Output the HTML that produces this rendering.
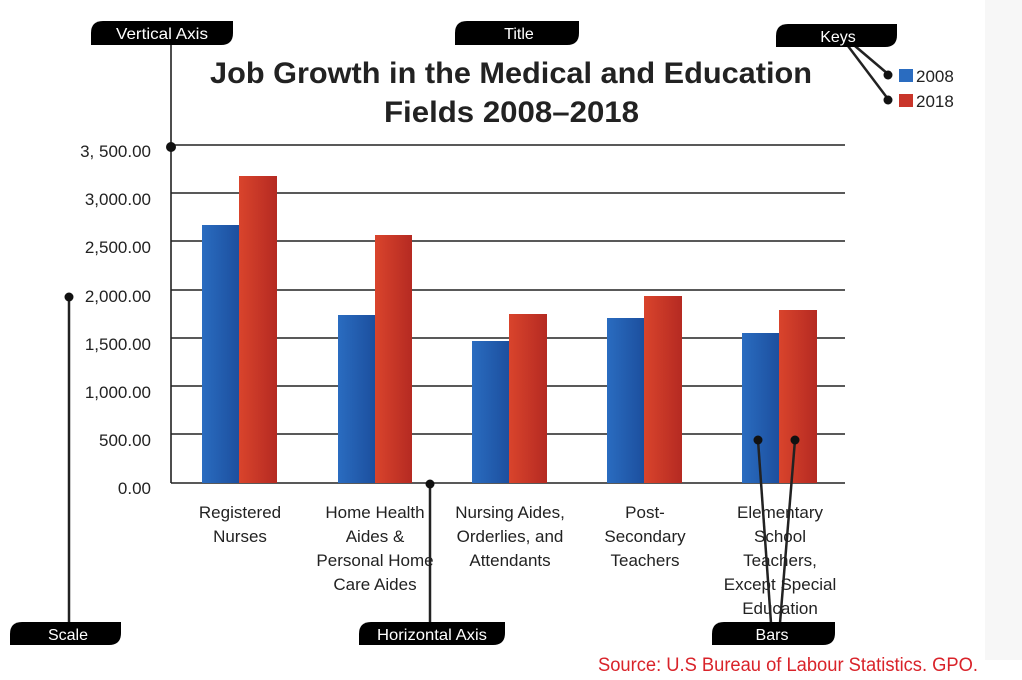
<!DOCTYPE html>
<html><head><meta charset="utf-8"><style>
body{margin:0;background:#fff;}
svg{display:block;font-family:"Liberation Sans",sans-serif;}
</style></head><body>
<svg width="1022" height="680" viewBox="0 0 1022 680">
<defs>
<linearGradient id="b" x1="0" x2="1"><stop offset="0" stop-color="#2a6cc0"/><stop offset="1" stop-color="#1c4f9e"/></linearGradient>
<linearGradient id="r" x1="0" x2="1"><stop offset="0" stop-color="#d9442c"/><stop offset="1" stop-color="#b52a22"/></linearGradient>
</defs>
<rect x="985" y="0" width="37" height="660" fill="#f7f7f7"/>
<g stroke="#222" stroke-width="1.6">
<line x1="171" y1="145" x2="845" y2="145"/><line x1="171" y1="193" x2="845" y2="193"/>
<line x1="171" y1="241" x2="845" y2="241"/><line x1="171" y1="290" x2="845" y2="290"/>
<line x1="171" y1="338" x2="845" y2="338"/><line x1="171" y1="386" x2="845" y2="386"/>
<line x1="171" y1="434" x2="845" y2="434"/><line x1="171" y1="483" x2="845" y2="483"/>
<line x1="171" y1="45" x2="171" y2="483"/>
</g>
<rect x="202" y="225" width="37" height="258" fill="url(#b)"/><rect x="239" y="176" width="38" height="307" fill="url(#r)"/>
<rect x="338" y="315" width="37" height="168" fill="url(#b)"/><rect x="375" y="235" width="37" height="248" fill="url(#r)"/>
<rect x="472" y="341" width="37" height="142" fill="url(#b)"/><rect x="509" y="314" width="38" height="169" fill="url(#r)"/>
<rect x="607" y="318" width="37" height="165" fill="url(#b)"/><rect x="644" y="296" width="38" height="187" fill="url(#r)"/>
<rect x="742" y="333" width="37" height="150" fill="url(#b)"/><rect x="779" y="310" width="38" height="173" fill="url(#r)"/>
<g font-size="17" fill="#222" text-anchor="end">
<text x="151" y="157">3, 500.00</text><text x="151" y="205">3,000.00</text>
<text x="151" y="253">2,500.00</text><text x="151" y="302">2,000.00</text>
<text x="151" y="350">1,500.00</text><text x="151" y="398">1,000.00</text>
<text x="151" y="446">500.00</text><text x="151" y="494">0.00</text>
</g>
<g font-size="17" fill="#222" text-anchor="middle">
<text x="240" y="518">Registered</text><text x="240" y="542">Nurses</text>
<text x="375" y="518">Home Health</text><text x="375" y="542">Aides &amp;</text><text x="375" y="566">Personal Home</text><text x="375" y="590">Care Aides</text>
<text x="510" y="518">Nursing Aides,</text><text x="510" y="542">Orderlies, and</text><text x="510" y="566">Attendants</text>
<text x="645" y="518">Post-</text><text x="645" y="542">Secondary</text><text x="645" y="566">Teachers</text>
<text x="780" y="518">Elementary</text><text x="780" y="542">School</text><text x="780" y="566">Teachers,</text><text x="780" y="590">Except Special</text><text x="780" y="614">Education</text>
</g>
<g font-size="30" font-weight="bold" fill="#222">
<text x="210" y="83" textLength="602" lengthAdjust="spacingAndGlyphs">Job Growth in the Medical and Education</text>
<text x="384" y="122" textLength="255" lengthAdjust="spacingAndGlyphs">Fields 2008–2018</text>
</g>
<rect x="899" y="69" width="14" height="13" fill="#2a6cc0"/><text x="916" y="82" font-size="17" fill="#222">2008</text>
<rect x="899" y="94" width="14" height="13" fill="#c9352a"/><text x="916" y="107" font-size="17" fill="#222">2018</text>
<g stroke="#222" stroke-width="2.5" fill="none">
<line x1="855" y1="46" x2="888" y2="74"/><line x1="848" y1="46" x2="888" y2="99"/>
<line x1="69" y1="297" x2="69" y2="623"/>
<line x1="430" y1="484" x2="430" y2="623"/>
<line x1="758" y1="440" x2="771" y2="623"/><line x1="795" y1="440" x2="780" y2="623"/>
</g>
<g fill="#111">
<circle cx="171" cy="147" r="5"/><circle cx="518" cy="25" r="4"/>
<circle cx="888" cy="75" r="4.5"/><circle cx="888" cy="100" r="4.5"/>
<circle cx="69" cy="297" r="4.5"/><circle cx="430" cy="484" r="4.5"/>
<circle cx="758" cy="440" r="4.5"/><circle cx="795" cy="440" r="4.5"/>
</g>
<g fill="#000">
<path d="M103 21H233V33Q233 45 221 45H91V33Q91 21 103 21Z"/>
<path d="M467 21H579V33Q579 45 567 45H455V33Q455 21 467 21Z"/>
<path d="M788 24H897V35Q897 47 885 47H776V36Q776 24 788 24Z"/>
<path d="M22 622H121V633Q121 645 109 645H10V634Q10 622 22 622Z"/>
<path d="M371 622H505V633Q505 645 493 645H359V634Q359 622 371 622Z"/>
<path d="M724 622H835V633Q835 645 823 645H712V634Q712 622 724 622Z"/>
</g>
<g fill="#fff" font-size="16" text-anchor="middle">
<text x="162" y="39" textLength="92" lengthAdjust="spacingAndGlyphs">Vertical Axis</text>
<text x="519" y="39">Title</text>
<text x="838" y="42">Keys</text>
<text x="68" y="640">Scale</text>
<text x="432" y="640" textLength="110" lengthAdjust="spacingAndGlyphs">Horizontal Axis</text>
<text x="772" y="640">Bars</text>
</g>
<text x="598" y="671" font-size="19" fill="#d9232a" textLength="380" lengthAdjust="spacingAndGlyphs">Source: U.S Bureau of Labour Statistics. GPO.</text>
</svg>
</body></html>
